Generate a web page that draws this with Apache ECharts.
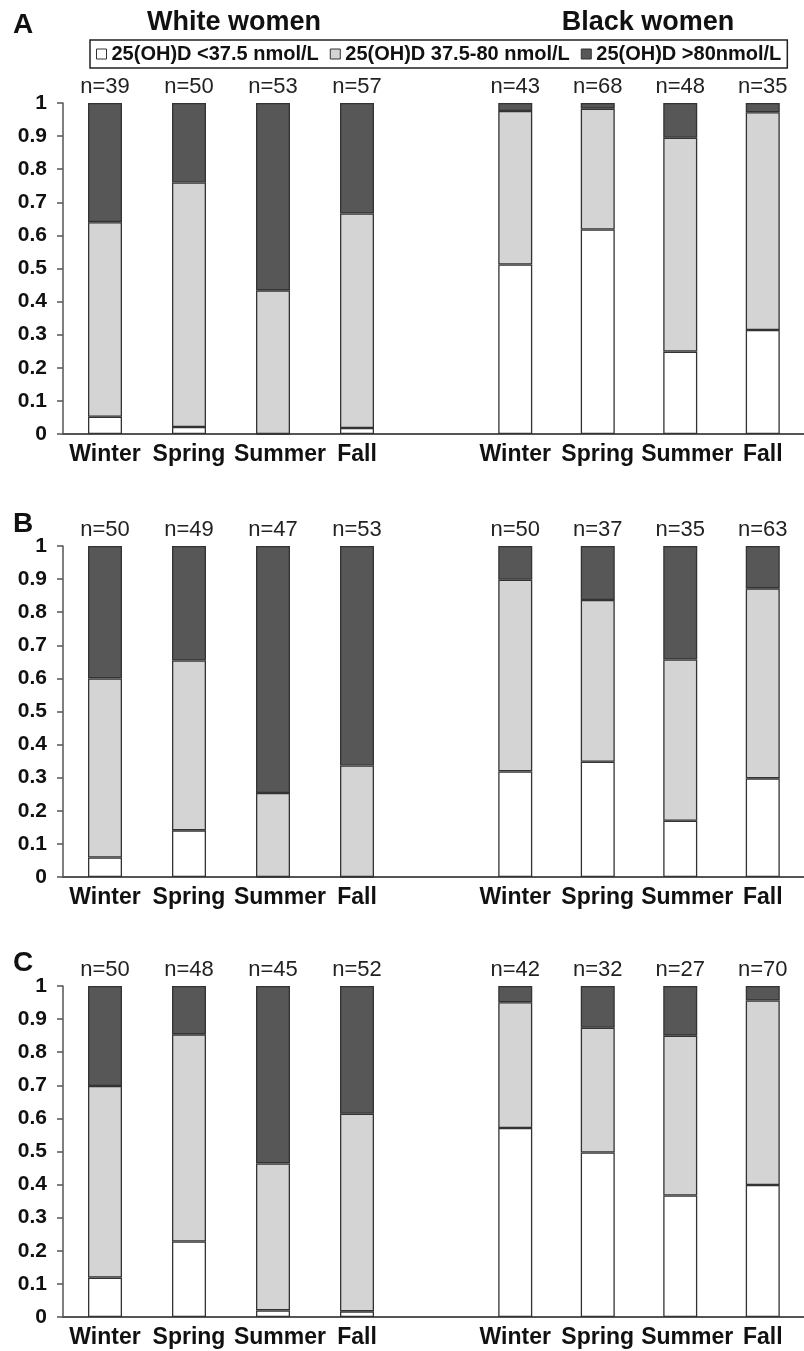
<!DOCTYPE html>
<html>
<head>
<meta charset="utf-8">
<script src="https://cdn.jsdelivr.net/npm/echarts@6/dist/echarts.min.js"></script>
<style>
  html, body { margin: 0; padding: 0; background: #fff; }
  #chart { width: 804px; height: 1351px; }
</style>
</head>
<body>
<div id="chart"></div>
<script>
// categories and legend names
const seasons = ["Winter", "Spring", "Summer", "Fall"];
const levelNames = ["25(OH)D <37.5 nmol/L", "25(OH)D 37.5-80 nmol/L", "25(OH)D >80nmol/L"];
const yTicks = [0, 0.1, 0.2, 0.3, 0.4, 0.5, 0.6, 0.7, 0.8, 0.9, 1];

// Panel A (proportions: low / mid / high)
const A_white_low  = [0.052, 0.021, 0.000, 0.018];
const A_white_mid  = [0.588, 0.739, 0.434, 0.648];
const A_white_high = [0.360, 0.240, 0.566, 0.334];
const A_black_low  = [0.512, 0.618, 0.249, 0.314];
const A_black_mid  = [0.464, 0.365, 0.646, 0.658];
const A_black_high = [0.024, 0.017, 0.105, 0.028];
const A_white_n = [39, 50, 53, 57];
const A_black_n = [43, 68, 48, 35];

// Panel B
const B_white_low  = [0.059, 0.141, 0.000, 0.000];
const B_white_mid  = [0.541, 0.513, 0.254, 0.337];
const B_white_high = [0.400, 0.346, 0.746, 0.663];
const B_black_low  = [0.319, 0.348, 0.170, 0.298];
const B_black_mid  = [0.579, 0.489, 0.487, 0.574];
const B_black_high = [0.102, 0.163, 0.343, 0.128];
const B_white_n = [50, 49, 47, 53];
const B_black_n = [50, 37, 35, 63];

// Panel C
const C_white_low  = [0.119, 0.228, 0.020, 0.017];
const C_white_mid  = [0.579, 0.626, 0.444, 0.597];
const C_white_high = [0.302, 0.146, 0.536, 0.386];
const C_black_low  = [0.571, 0.497, 0.367, 0.399];
const C_black_mid  = [0.380, 0.377, 0.483, 0.557];
const C_black_high = [0.049, 0.126, 0.150, 0.044];
const C_white_n = [50, 48, 45, 52];
const C_black_n = [42, 32, 27, 70];

const panels = [
  { letter: "A", letterY: 25, top: 103, white: [A_white_low, A_white_mid, A_white_high], whiteN: A_white_n,
    black: [A_black_low, A_black_mid, A_black_high], blackN: A_black_n },
  { letter: "B", letterY: 524, top: 546, white: [B_white_low, B_white_mid, B_white_high], whiteN: B_white_n,
    black: [B_black_low, B_black_mid, B_black_high], blackN: B_black_n },
  { letter: "C", letterY: 963, top: 986, white: [C_white_low, C_white_mid, C_white_high], whiteN: C_white_n,
    black: [C_black_low, C_black_mid, C_black_high], blackN: C_black_n }
];

const FONT = "'Liberation Sans', Arial, sans-serif";
const fills = ["#ffffff", "#d4d4d4", "#575757"];
const PANEL_H = 331;

// "Summer" sits a bit right of its bar in the original
const seasonCats = seasons.map(s => s === "Summer"
  ? { value: s, textStyle: { padding: [0, 0, 0, 14] } }
  : s);

const grids = [], xAxes = [], yAxes = [], series = [], graphics = [];

panels.forEach((p, pi) => {
  // left grid has a blank 5th slot so the axis line runs into the gap
  grids.push({ left: 63, top: p.top, width: 420, height: PANEL_H });
  grids.push({ left: 474, top: p.top, width: 337, height: PANEL_H });

  [0, 1].forEach(g => {
    const idx = pi * 2 + g;
    xAxes.push({
      type: "category",
      gridIndex: idx,
      data: g === 0 ? seasonCats.concat([""]) : seasonCats,
      axisLine: { lineStyle: { color: "#555", width: 2 } },
      axisTick: { show: false },
      axisLabel: {
        interval: 0, margin: 9, color: "#111",
        fontFamily: FONT, fontWeight: "bold", fontSize: 23
      }
    });
    yAxes.push({
      type: "value",
      gridIndex: idx,
      min: 0, max: 1, interval: 0.1,
      show: g === 0,
      splitLine: { show: false },
      axisLine: { show: true, lineStyle: { color: "#555", width: 1.5 } },
      axisTick: { show: true, length: 6, lineStyle: { color: "#555", width: 1.5 } },
      axisLabel: {
        margin: 16, color: "#111", fontFamily: FONT, fontWeight: "bold", fontSize: 21,
        formatter: v => String(yTicks[Math.round(v * 10)])
      }
    });

    const segs = g === 0 ? p.white : p.black;
    const ns = g === 0 ? p.whiteN : p.blackN;
    segs.forEach((vals, si) => {
      const s = {
        name: levelNames[si],
        type: "bar",
        stack: "p" + pi + "g" + g,
        xAxisIndex: idx,
        yAxisIndex: idx,
        barWidth: 34,
        data: vals,
        itemStyle: { color: fills[si], borderColor: "#333", borderWidth: 1.3 },
        emphasis: { disabled: true }
      };
      if (si === 2) {
        s.label = {
          show: true, position: "top", distance: 5,
          color: "#222", fontFamily: FONT, fontSize: 22,
          formatter: params => "n=" + ns[params.dataIndex]
        };
      }
      series.push(s);
    });
  });

  graphics.push({
    type: "text",
    style: {
      text: p.letter, x: 23, y: p.letterY,
      font: "bold 28px " + FONT, fill: "#111",
      textAlign: "center", textVerticalAlign: "middle"
    }
  });
});

graphics.push({
  type: "text",
  style: { text: "White women", x: 234, y: 23, font: "bold 27px " + FONT, fill: "#111",
           textAlign: "center", textVerticalAlign: "middle" }
});
graphics.push({
  type: "text",
  style: { text: "Black women", x: 648, y: 23, font: "bold 27px " + FONT, fill: "#111",
           textAlign: "center", textVerticalAlign: "middle" }
});

const chart = echarts.init(document.getElementById("chart"), null, { renderer: "canvas" });
chart.setOption({
  animation: false,
  backgroundColor: "#fff",
  legend: {
    left: 90, top: 40,
    data: levelNames,
    orient: "horizontal",
    icon: "rect",
    itemWidth: 10, itemHeight: 10, itemGap: 11,
    padding: [4, 6],
    borderColor: "#222", borderWidth: 1.5,
    itemStyle: { borderColor: "#333", borderWidth: 1 },
    selectedMode: false,
    textStyle: { color: "#111", fontFamily: FONT, fontWeight: "bold", fontSize: 20 }
  },
  grid: grids,
  xAxis: xAxes,
  yAxis: yAxes,
  series: series,
  graphic: graphics
});
</script>
</body>
</html>
